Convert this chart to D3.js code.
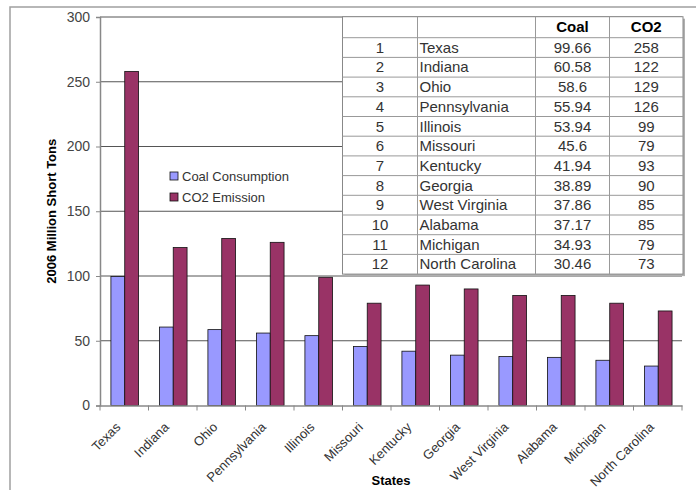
<!DOCTYPE html>
<html lang="en">
<head>
<meta charset="utf-8">
<script src="https://d3js.org/d3.v7.min.js"></script>
<style>
  body { margin: 0; background: #fff; }
  text { font-family: "Liberation Sans", Arial, sans-serif; }
</style>
</head>
<body>
<script>
  var states = ["Texas", "Indiana", "Ohio", "Pennsylvania", "Illinois", "Missouri",
    "Kentucky", "Georgia", "West Virginia", "Alabama", "Michigan", "North Carolina"];
  var coal = [99.66, 60.58, 58.6, 55.94, 53.94, 45.6, 41.94, 38.89, 37.86, 37.17, 34.93, 30.46];
  var co2 = [258, 122, 129, 126, 99, 79, 93, 90, 85, 85, 79, 73];
  var yTicks = [0, 50, 100, 150, 200, 250, 300];
  var seriesNames = ["Coal Consumption", "CO2 Emission"];
  var colors = ["#9999ff", "#993366"];

  const W = 696, H = 490;
  const svg = d3.select("body").append("svg")
    .attr("width", W).attr("height", H);

  // outer frame
  svg.append("rect")
    .attr("x", 10).attr("y", 7).attr("width", 700).attr("height", 500)
    .attr("fill", "none").attr("stroke", "#a0a0a0").attr("stroke-width", 1.5);

  const pLeft = 100, pRight = 682, pTop = 17, pBottom = 405.5;

  var x = d3.scaleBand().domain(states).range([pLeft, pRight]).padding(0);
  var bw = x.bandwidth();
  var x1 = d3.scaleBand().domain([0, 1]).range([bw * 0.225, bw * 0.795]);
  var y = d3.scaleLinear().domain([0, 300]).range([pBottom, pTop]);

  // grid lines
  svg.append("g").selectAll("line")
    .data(yTicks.filter(d => d > 0)).enter()
    .append("line")
    .attr("x1", pLeft).attr("x2", pRight)
    .attr("y1", d => y(d)).attr("y2", d => y(d))
    .attr("stroke", "#555").attr("stroke-width", 1);

  // bars
  var groups = svg.append("g").selectAll("g")
    .data(states).enter().append("g")
    .attr("transform", d => "translate(" + x(d) + ",0)");
  groups.selectAll("rect")
    .data((d, i) => [coal[i], co2[i]]).enter()
    .append("rect")
    .attr("x", (d, j) => x1(j))
    .attr("width", x1.bandwidth())
    .attr("y", d => y(d))
    .attr("height", d => y(0) - y(d))
    .attr("fill", (d, j) => colors[j])
    .attr("stroke", "#111").attr("stroke-width", 0.8);

  // y axis
  var yAxis = svg.append("g")
    .attr("transform", "translate(" + pLeft + ",0)")
    .call(d3.axisLeft(y).tickValues(yTicks).tickSize(4).tickPadding(6));
  yAxis.select(".domain").attr("stroke", "#888").attr("stroke-width", 1.5);
  yAxis.selectAll(".tick line").attr("stroke", "#888");
  yAxis.selectAll(".tick text")
    .attr("fill", "#444").style("font-size", "14px")
    .style("font-family", "'Liberation Sans', Arial, sans-serif");

  // x axis
  var xAxis = svg.append("g")
    .attr("transform", "translate(0," + pBottom + ")")
    .call(d3.axisBottom(x).tickSize(0).tickFormat(""));
  xAxis.select(".domain").attr("stroke", "#888").attr("stroke-width", 1.5);
  xAxis.selectAll(".tick").remove();
  xAxis.selectAll("line.sep")
    .data(states.concat(["_end"])).enter()
    .append("line").attr("class", "sep")
    .attr("x1", (d, i) => pLeft + i * bw).attr("x2", (d, i) => pLeft + i * bw)
    .attr("y1", 0).attr("y2", 5)
    .attr("stroke", "#888");

  svg.append("g").selectAll("text")
    .data(states).enter()
    .append("text")
    .attr("transform", d => "translate(" + (x(d) + bw / 2 - 3) + "," + 428 + ") rotate(-45)")
    .attr("text-anchor", "end")
    .attr("fill", "#333")
    .style("font-size", "13px")
    .text(d => d);

  // axis titles
  svg.append("text")
    .attr("transform", "translate(55.5," + ((pTop + pBottom) / 2) + ") rotate(-90)")
    .attr("text-anchor", "middle")
    .style("font-size", "13px").style("font-weight", "bold")
    .text("2006 Million Short Tons");
  svg.append("text")
    .attr("x", (pLeft + pRight) / 2).attr("y", 485)
    .attr("text-anchor", "middle")
    .style("font-size", "13px").style("font-weight", "bold")
    .text("States");

  // legend
  var legend = svg.append("g").attr("transform", "translate(170,172)");
  var li = legend.selectAll("g").data(seriesNames).enter().append("g")
    .attr("transform", (d, i) => "translate(0," + (i * 21) + ")");
  li.append("rect").attr("width", 8).attr("height", 8)
    .attr("fill", (d, i) => colors[i]).attr("stroke", "#111").attr("stroke-width", 0.8);
  li.append("text").attr("x", 12).attr("y", 8.5)
    .attr("fill", "#333").style("font-size", "13px")
    .text(d => d);

  // data table
  var tx = [342.5, 417.5, 535.5, 609.5, 683];
  var ty0 = 16.7, headH = 21, rowH = 19.7;
  var tBottom = ty0 + headH + rowH * states.length;
  var table = svg.append("g");
  table.append("rect")
    .attr("x", tx[0] + 2).attr("y", ty0 + 2)
    .attr("width", tx[4] - tx[0]).attr("height", tBottom - ty0)
    .attr("fill", "#b0b0b0");
  table.append("rect")
    .attr("x", tx[0]).attr("y", ty0)
    .attr("width", tx[4] - tx[0]).attr("height", tBottom - ty0)
    .attr("fill", "#fff").attr("stroke", "#888").attr("stroke-width", 1);
  table.selectAll("line.row")
    .data(d3.range(1, states.length + 1)).enter()
    .append("line").attr("class", "row")
    .attr("x1", tx[0]).attr("x2", tx[4])
    .attr("y1", i => ty0 + headH + (i - 1) * rowH)
    .attr("y2", i => ty0 + headH + (i - 1) * rowH)
    .attr("stroke", "#999");
  table.selectAll("line.col")
    .data(tx.slice(1, 4)).enter()
    .append("line").attr("class", "col")
    .attr("x1", d => d).attr("x2", d => d)
    .attr("y1", ty0).attr("y2", tBottom)
    .attr("stroke", "#999");

  table.append("text")
    .attr("x", (tx[2] + tx[3]) / 2).attr("y", ty0 + 15.5)
    .attr("text-anchor", "middle").style("font-size", "15px").style("font-weight", "bold")
    .text("Coal");
  table.append("text")
    .attr("x", (tx[3] + tx[4]) / 2).attr("y", ty0 + 15.5)
    .attr("text-anchor", "middle").style("font-size", "15px").style("font-weight", "bold")
    .text("CO2");

  var rows = table.selectAll("g.r").data(states).enter().append("g")
    .attr("class", "r")
    .attr("transform", (d, i) => "translate(0," + (ty0 + headH + i * rowH + 15) + ")");
  rows.append("text").attr("x", (tx[0] + tx[1]) / 2).attr("text-anchor", "middle")
    .attr("fill", "#333").style("font-size", "15px").text((d, i) => i + 1);
  rows.append("text").attr("x", tx[1] + 2)
    .attr("fill", "#333").style("font-size", "15px").text(d => d);
  rows.append("text").attr("x", (tx[2] + tx[3]) / 2).attr("text-anchor", "middle")
    .attr("fill", "#333").style("font-size", "15px").text((d, i) => coal[i]);
  rows.append("text").attr("x", (tx[3] + tx[4]) / 2).attr("text-anchor", "middle")
    .attr("fill", "#333").style("font-size", "15px").text((d, i) => co2[i]);
</script>
</body>
</html>
